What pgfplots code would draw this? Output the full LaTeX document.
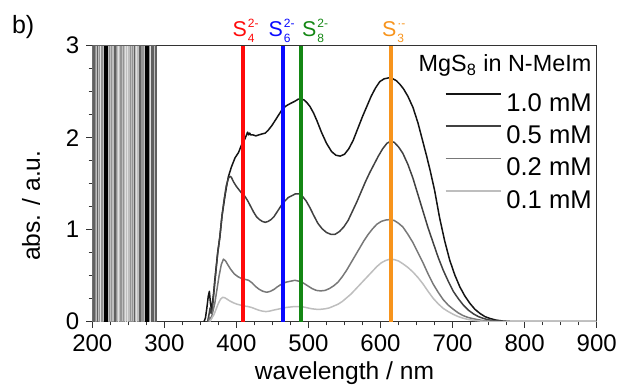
\documentclass[border=0pt]{standalone}
\usepackage{pgfplots}
\pgfplotsset{compat=1.18}
\usepackage{fontspec}
\setmainfont{Liberation Sans}
\definecolor{sorange}{RGB}{247,148,29}
\definecolor{sgreen}{RGB}{20,135,20}
\definecolor{sblue}{RGB}{10,10,255}
\definecolor{sred}{RGB}{255,10,10}
\definecolor{c10}{RGB}{20,20,20}
\definecolor{c05}{RGB}{65,65,65}
\definecolor{c02}{RGB}{120,120,120}
\definecolor{c01}{RGB}{190,190,190}
\newcommand{\ion}[3]{#1\kern0.5pt\raisebox{-3.2pt}{\vbox{\fontsize{6}{7}\selectfont\baselineskip=7.6pt\lineskiplimit=-10pt\hbox{#3}\hbox{#2}}}}
\begin{document}
\begin{tikzpicture}
\useasboundingbox (-46.15pt,-32.65pt) rectangle (265.35pt,160.85pt);
\begin{axis}[
  at={(0pt,0pt)}, anchor=south west,
  scale only axis, width=252.2pt, height=138pt,
  xmin=200, xmax=900, ymin=0, ymax=3,
  xtick={200,300,...,900}, ytick={0,1,2,3},
  minor x tick num=3, minor y tick num=3,
  tick pos=left, tick align=outside,
  major tick length=3pt, minor tick length=1.8pt,
  axis line style={draw=black!80, line width=0.5pt},
  every tick/.style={black!80, line width=0.5pt},
  tick label style={font=\fontsize{12}{12}\selectfont},
  /pgf/number format/assume math mode=true,
  xlabel={wavelength / nm}, ylabel={abs. / a.u.},
  every axis x label/.style={at={(axis description cs:0.5,0)}, anchor=base, yshift=-28.65pt, font=\fontsize{12.3}{13}\selectfont},
  every axis y label/.style={at={(axis description cs:-0.1215,0.42)}, anchor=center, rotate=90, font=\fontsize{12.3}{13}\selectfont},
  legend image code/.code={\draw[#1] (0pt,4.5pt) -- (27.5pt,4.5pt);},
  legend style={at={(rel axis cs:0.9901,0.8518)}, anchor=north east,
    draw=none, fill=none, inner sep=0pt, outer sep=0pt, row sep=0pt,
    font=\fontsize{12.8}{13}\selectfont,
    nodes={inner sep=0pt, text height=12.2pt, text depth=4pt},
    /tikz/every odd column/.append style={column sep=2.5pt}},
  legend cell align=left,
]
% noisy region below 290 nm
\addplot[draw=none, fill=black!25, forget plot] coordinates {(200,0) (200,3) (288.6,3) (288.6,0)} \closedcycle;
\addplot[ycomb, black!42, line width=0.7pt, forget plot] coordinates {
 (204,3) (210,3) (214,3) (224,3) (227,3) (240,3) (243,3) (253,3) (256,3) (269,3) (271,3) (279,3) (213,3) (234,3)};
\addplot[ycomb, black!12, line width=0.6pt, forget plot] coordinates {
 (211.5,3) (236.5,3) (246,3) (248.5,3) (261.5,3) (280.5,3)};
\addplot[ycomb, black!62, line width=0.7pt, forget plot] coordinates {
 (201,3) (202.5,3) (207,3) (231.5,3) (258.3,3) (266,3) (282,3) (284.5,3) (288.4,3)};
\addplot[ycomb, black, line width=0.7pt, forget plot] coordinates {
 (217.8,3) (219,3) (220.2,3) (274.8,3) (276,3) (277.4,3)};
% spectra
\addplot[c10, line width=0.75pt, line join=round] coordinates {
(355,0) (357,0.04) (359,0.15) (361,0.28) (362.5,0.33) (364,0.2) (365.5,0.13) (367,0.22) (368.5,0.32) (370,0.45) (372,0.6) (374,0.75) (377,0.92) (380,1.15) (384,1.36) (387,1.5) (389,1.58) (393,1.68) (398,1.78) (403,1.84) (407,1.92) (410,1.96) (412,1.99) (414,2.03) (415.5,2.06) (417,2.03) (418.5,2.05) (420,2.03) (423,2.03) (427,2.02) (431,2.03) (435,2.04) (440,2.05) (444,2.08) (449,2.13) (454,2.19) (458,2.24) (463,2.30) (468,2.34) (472,2.36) (477,2.38) (482,2.4) (486,2.42) (490,2.42) (494,2.41) (498,2.38) (502,2.34) (507,2.27) (512,2.18) (518,2.06) (525,1.94) (532,1.85) (538,1.81) (544,1.80) (550,1.82) (556,1.88) (562,1.97) (568,2.09) (575,2.23) (581,2.34) (587,2.45) (593,2.54) (599,2.61) (605,2.64) (611,2.65) (616,2.645) (622,2.62) (627,2.58) (632,2.53) (638,2.45) (645,2.33) (652,2.16) (659,1.95) (664,1.8) (669,1.64) (675,1.43) (682,1.13) (689,0.88) (696,0.67) (703,0.51) (710,0.38) (717,0.28) (724,0.2) (731,0.135) (738,0.09) (745,0.055) (752,0.035) (760,0.018) (770,0.007) (780,0.002) (790,0) (900,0)};
\addlegendentry{1.0 mM}
\addplot[c05, line width=0.75pt, line join=round] coordinates {
(360,0) (362,0.08) (363.5,0.15) (365,0.09) (366.5,0.12) (368,0.25) (370,0.42) (372,0.58) (374,0.74) (377,0.92) (380,1.15) (383,1.33) (386,1.48) (389,1.56) (391,1.58) (393,1.57) (396,1.52) (400,1.47) (404,1.43) (408,1.39) (412,1.36) (416,1.31) (420,1.25) (424,1.19) (428,1.14) (432,1.11) (436,1.09) (440,1.08) (444,1.09) (448,1.11) (452,1.14) (457,1.2) (462,1.26) (467,1.31) (472,1.35) (477,1.37) (482,1.39) (487,1.39) (492,1.36) (497,1.31) (502,1.24) (507,1.16) (513,1.07) (519,1.01) (525,0.97) (531,0.95) (537,0.95) (543,0.98) (549,1.03) (555,1.1) (561,1.2) (567,1.3) (573,1.41) (579,1.52) (585,1.62) (591,1.71) (597,1.8) (603,1.88) (609,1.94) (614,1.96) (619,1.95) (625,1.9) (631,1.83) (638,1.71) (645,1.56) (652,1.38) (659,1.2) (666,1.02) (673,0.86) (680,0.7) (687,0.56) (694,0.44) (701,0.33) (708,0.25) (715,0.18) (722,0.125) (729,0.085) (736,0.055) (743,0.035) (750,0.02) (760,0.008) (770,0.002) (780,0) (900,0)};
\addlegendentry{0.5 mM}
\addplot[c02, line width=0.75pt, line join=round] coordinates {
(361,0) (363,0.05) (365,0.03) (367,0.1) (370,0.2) (373,0.35) (376,0.5) (379,0.62) (382,0.68) (385,0.66) (388,0.62) (392,0.57) (397,0.52) (402,0.49) (407,0.47) (412,0.46) (417,0.45) (422,0.42) (427,0.38) (432,0.35) (437,0.33) (442,0.32) (447,0.33) (452,0.35) (457,0.38) (463,0.41) (469,0.43) (475,0.44) (481,0.45) (487,0.44) (493,0.42) (499,0.39) (505,0.36) (511,0.34) (517,0.335) (523,0.34) (529,0.36) (535,0.39) (541,0.43) (547,0.49) (553,0.56) (559,0.64) (565,0.72) (571,0.8) (577,0.88) (583,0.95) (589,1.01) (595,1.06) (601,1.09) (607,1.105) (613,1.11) (619,1.1) (625,1.07) (631,1.03) (638,0.95) (645,0.86) (652,0.75) (659,0.64) (666,0.52) (673,0.41) (680,0.32) (687,0.24) (694,0.18) (701,0.135) (708,0.095) (715,0.065) (722,0.045) (730,0.03) (740,0.015) (750,0.006) (760,0) (900,0)};
\addlegendentry{0.2 mM}
\addplot[c01, line width=0.75pt, line join=round] coordinates {
(363,0) (366,0.04) (369,0.08) (372,0.14) (375,0.2) (378,0.245) (381,0.265) (384,0.26) (387,0.245) (391,0.225) (396,0.205) (401,0.19) (406,0.18) (411,0.17) (416,0.165) (421,0.155) (426,0.14) (431,0.125) (436,0.115) (441,0.11) (446,0.115) (451,0.125) (457,0.135) (463,0.145) (469,0.155) (475,0.16) (481,0.165) (487,0.165) (493,0.16) (499,0.15) (505,0.14) (511,0.135) (517,0.135) (523,0.14) (529,0.15) (535,0.17) (541,0.19) (547,0.22) (553,0.26) (559,0.3) (565,0.35) (571,0.4) (577,0.45) (583,0.5) (589,0.55) (595,0.6) (601,0.64) (607,0.665) (613,0.68) (619,0.675) (625,0.66) (631,0.63) (638,0.59) (645,0.54) (652,0.48) (659,0.41) (666,0.33) (673,0.255) (680,0.195) (687,0.145) (694,0.11) (701,0.08) (708,0.055) (715,0.037) (722,0.024) (730,0.014) (740,0.006) (750,0) (900,0)};
\addlegendentry{0.1 mM}
% species markers
\addplot[sred, line width=2pt, forget plot] coordinates {(409.6,0) (409.6,3)};
\addplot[sblue, line width=2pt, forget plot] coordinates {(465,0) (465,3)};
\addplot[sgreen, line width=2pt, forget plot] coordinates {(489.6,0) (489.6,3)};
\addplot[sorange, line width=2pt, forget plot] coordinates {(614.5,0) (614.5,3)};
\end{axis}
\begin{scope}[every node/.style={inner sep=0pt, anchor=base west}, font=\fontsize{10.7}{12}\selectfont]
\node[text=sred] at (70pt,142.85pt) {\ion{S}{4}{2-}};
\node[text=sblue] at (88pt,142.85pt) {\ion{S}{6}{2-}};
\node[text=sgreen] at (104.7pt,142.85pt) {\ion{S}{8}{2-}};
\node[text=sorange] at (144.7pt,142.85pt) {\ion{S}{3}{·-}};
\end{scope}
\node[inner sep=0pt, anchor=base west, font=\fontsize{12.5}{13}\selectfont] at (-40.3pt,144.2pt) {b)};
\node[inner sep=0pt, anchor=base east, font=\fontsize{11.7}{12}\selectfont] at (249.7pt,125pt) {MgS\textsubscript{8} in N-MeIm};
\end{tikzpicture}
\end{document}
